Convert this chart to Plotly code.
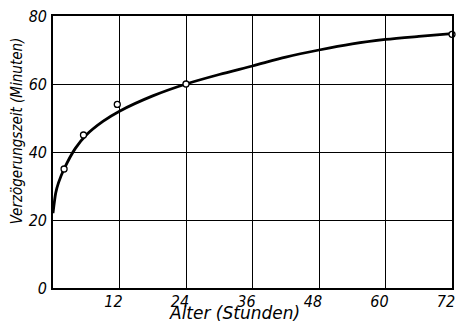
import plotly.graph_objects as go

# measured points
pt_x = [2, 5.5, 11.6, 24, 72]
pt_y = [35, 45, 54, 60, 74.6]

# smooth curve
curve_x = [0, 0.5, 1, 2, 4, 6, 9, 12, 18, 24, 30, 36, 42, 48, 54, 60, 66, 72]
curve_y = [22, 28, 31, 35, 41, 45, 49, 52, 56.5, 60, 62.8, 65.3, 67.9, 70, 71.8, 73.1, 74, 74.8]

x_ticks = [12, 24, 36, 48, 60, 72]
y_ticks = [0, 20, 40, 60, 80]

FONT = "DejaVu Sans Condensed"
W, H = 458, 322
L, R, T, B = 53, 3, 16, 34

fig = go.Figure()
fig.add_trace(go.Scatter(x=curve_x, y=curve_y, mode="lines",
                         line=dict(color="black", width=2.8, shape="spline", smoothing=0.8),
                         hoverinfo="skip", showlegend=False))
fig.add_trace(go.Scatter(x=pt_x, y=pt_y, mode="markers",
                         marker=dict(symbol="circle", size=6, color="white",
                                     line=dict(color="black", width=1.3)),
                         showlegend=False, cliponaxis=False))

pw = W - L - R
ph = H - T - B

fig.update_layout(
    width=W, height=H,
    margin=dict(l=L, r=R, t=T, b=B),
    paper_bgcolor="white", plot_bgcolor="white",
    font=dict(family=FONT, size=15, color="black", style="italic"),
    xaxis=dict(range=[0, 72], tickvals=x_ticks, ticktext=[str(v) for v in x_ticks],
               showgrid=True, gridcolor="black", gridwidth=1.3,
               showline=True, linecolor="black", linewidth=1.6, mirror=True,
               ticks="", zeroline=False, ticklabelstandoff=-2, ticklabelshift=-6,
               ticklabeloverflow="allow",
               tickfont=dict(family=FONT, size=16, style="italic")),
    yaxis=dict(range=[0, 80], tickvals=y_ticks, ticktext=[str(v) for v in y_ticks],
               showgrid=True, gridcolor="black", gridwidth=1.3,
               showline=True, linecolor="black", linewidth=1.6, mirror=True,
               ticks="", zeroline=False, ticklabelstandoff=1,
               ticklabeloverflow="allow",
               tickfont=dict(family=FONT, size=16, style="italic")),
    annotations=[
        dict(text="Alter (Stunden)", x=(236 - L) / pw, y=(H - B - 313) / ph,
             xref="paper", yref="paper", showarrow=False,
             xanchor="center", yanchor="middle",
             font=dict(family="DejaVu Sans", size=17, style="italic")),
        dict(text="Verzögerungszeit (Minuten)", x=(17 - L) / pw, y=(H - B - 131) / ph,
             xref="paper", yref="paper", textangle=-90, showarrow=False,
             xanchor="center", yanchor="middle",
             font=dict(family=FONT, size=15, style="italic")),
    ],
)

fig.write_html("out.html")
